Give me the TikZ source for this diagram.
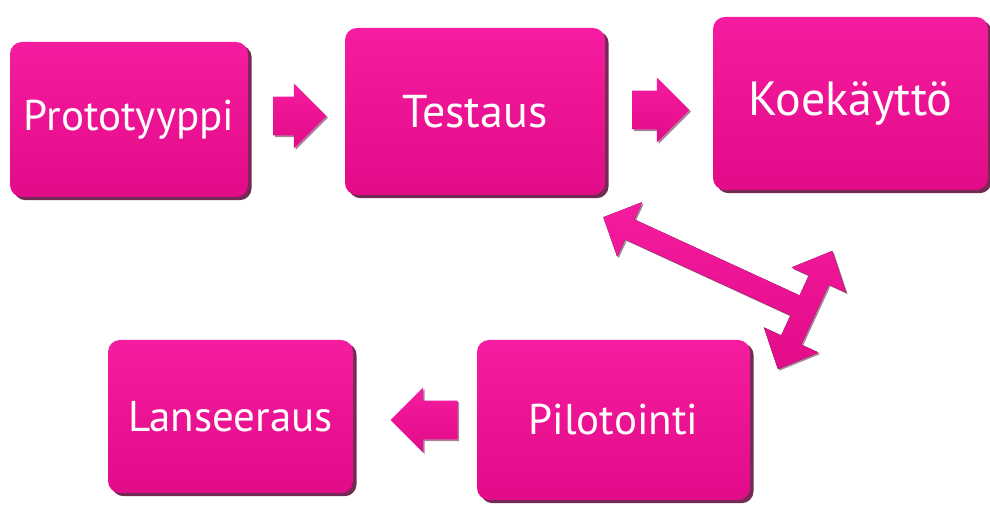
\documentclass[tikz,border=0pt]{standalone}
\usepackage{fontspec}
\setmainfont{PT Sans}
\usetikzlibrary{shapes.arrows,shadows}
\definecolor{pinktop}{HTML}{F51C9F}
\definecolor{pinkbot}{HTML}{E20B88}
\definecolor{pinkedge}{HTML}{5A0636}
\begin{document}
\begin{tikzpicture}[
  x=0.5pt, y=-0.5pt,
  stage/.style={rounded corners=6pt, top color=pinktop, bottom color=pinkbot,
    text=white, font=\fontsize{21.5}{26}\selectfont, inner sep=0pt,
    drop shadow={shadow xshift=1.8pt, shadow yshift=-1.6pt, fill=pinkedge, opacity=.85}},
  blockarrow/.style={single arrow, single arrow head extend=6.5pt, minimum width=32.5pt,
    minimum height=26.5pt, inner xsep=0pt, inner ysep=9.5pt, anchor=tip,
    top color=pinktop, bottom color=pinkbot,
    drop shadow={shadow xshift=.8pt, shadow yshift=-.8pt, fill=pinkedge, opacity=.5}}
]
\useasboundingbox (0,0) rectangle (990,506);
\node[stage, minimum width=119pt, minimum height=77.5pt] (a) at (129,119.5) {Prototyyppi};
\node[stage, minimum width=130pt, minimum height=83.5pt, font=\fontsize{23}{27}\selectfont] (b) at (475,111.5) {Testaus};
\node[stage, minimum width=137.5pt, minimum height=86.5pt, font=\fontsize{24}{28}\selectfont] (c) at (850.5,103.5) {Koekäyttö};
\node[stage, minimum width=136.5pt, minimum height=80pt] (d) at (613.5,420) {Pilotointi};
\node[stage, minimum width=122.5pt, minimum height=76.5pt] (e) at (230.5,416.5) {Lanseeraus};
\node[blockarrow] (ab) at (327,116) {};
\node[blockarrow, minimum height=28.5pt] (bc) at (690,110) {};
\node[blockarrow, minimum height=33.5pt, shape border rotate=180] (de) at (390,420) {};
% three-headed arrow between the rows
\coordinate (hub) at (805,310);
\begin{scope}[shift={(hub)}, rotate=155.3]
\filldraw[draw=none, top color=pinktop, bottom color=pinkbot,
  drop shadow={shadow xshift=.8pt, shadow yshift=-.8pt, fill=pinkedge, opacity=.5}]
  (222,0) -- (193,30) -- (193,11) -- (11,11) -- (11,33) -- (30,33) -- (0,65)
  -- (-30,33) -- (-11,33) -- (-11,-33) -- (-30,-33) -- (0,-65) -- (30,-33)
  -- (11,-33) -- (11,-11) -- (193,-11) -- (193,-30) -- cycle;
\end{scope}
\end{tikzpicture}
\end{document}
